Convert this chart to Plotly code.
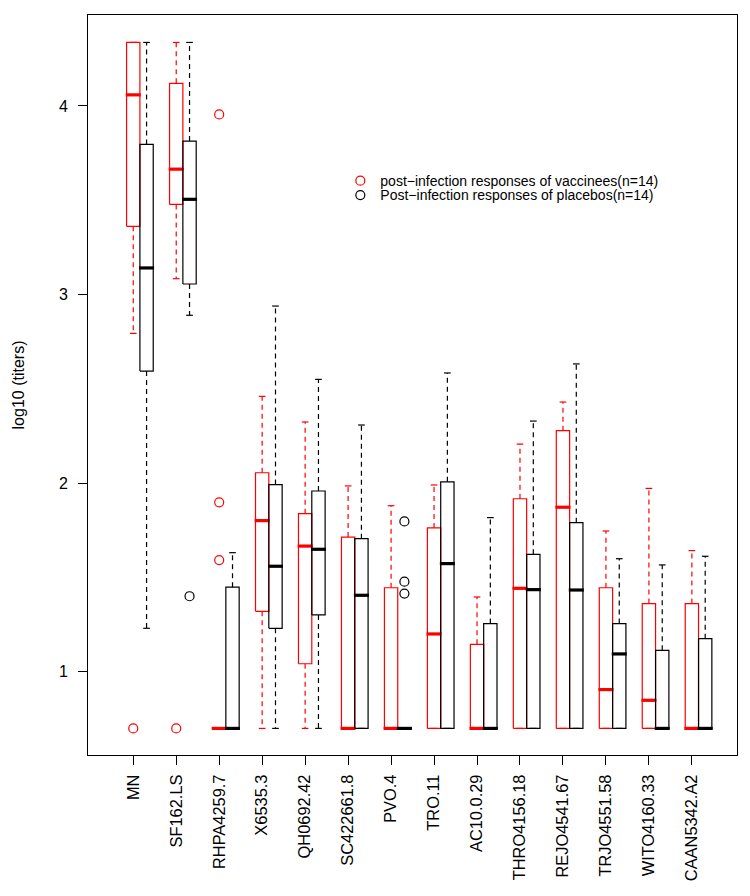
import plotly.graph_objects as go

# ---- data -------------------------------------------------------------
categories = ["MN", "SF162.LS", "RHPA4259.7", "X6535.3", "QH0692.42", "SC422661.8",
              "PVO.4", "TRO.11", "AC10.0.29", "THRO4156.18", "REJO4541.67",
              "TRJO4551.58", "WITO4160.33", "CAAN5342.A2"]

# vaccinees (red)
vac_lower = [2.794, 3.084, 0.699, 0.699, 0.699, 0.699, 0.699, 0.699, 0.699, 0.699, 0.699, 0.699, 0.699, 0.699]
vac_q1    = [3.362, 3.478, 0.699, 1.320, 1.042, 0.699, 0.699, 0.699, 0.699, 0.699, 0.699, 0.699, 0.699, 0.699]
vac_med   = [4.059, 3.665, 0.699, 1.801, 1.666, 0.699, 0.699, 1.200, 0.699, 1.442, 1.872, 0.905, 0.848, 0.699]
vac_q3    = [4.337, 4.120, 0.699, 2.055, 1.838, 1.714, 1.445, 1.762, 1.145, 1.917, 2.278, 1.445, 1.361, 1.361]
vac_upper = [4.337, 4.337, 0.699, 2.460, 2.324, 1.985, 1.880, 1.990, 1.396, 2.207, 2.430, 1.746, 1.972, 1.642]
vac_out_cat = [0, 1, 2, 2, 2]
vac_out_val = [0.699, 0.699, 3.955, 1.898, 1.592]

# placebos (black)
pla_lower = [1.230, 2.890, 0.699, 0.699, 0.699, 0.699, 0.699, 0.699, 0.699, 0.699, 0.699, 0.699, 0.699, 0.699]
pla_q1    = [2.594, 3.056, 0.699, 1.230, 1.301, 0.699, 0.699, 0.699, 0.699, 0.699, 0.699, 0.699, 0.699, 0.699]
pla_med   = [3.141, 3.505, 0.699, 1.559, 1.649, 1.405, 0.699, 1.573, 0.699, 1.435, 1.433, 1.094, 0.699, 0.699]
pla_q3    = [3.796, 3.814, 1.448, 1.992, 1.958, 1.705, 0.699, 2.007, 1.255, 1.622, 1.790, 1.255, 1.113, 1.175]
pla_upper = [4.337, 4.337, 1.631, 2.939, 2.550, 2.308, 0.699, 2.584, 1.817, 2.329, 2.632, 1.599, 1.566, 1.612]
pla_out_cat = [1, 6, 6, 6]
pla_out_val = [1.400, 1.797, 1.477, 1.414]

vac_name = "post\u2212infection responses of vaccinees(n=14)"
pla_name = "Post\u2212infection responses of placebos(n=14)"

# ---- geometry helpers -------------------------------------------------
HALF_W = 0.155          # half box width (category units)
CAP_W = 0.5 * HALF_W    # staple half width
OFFSET = {"vac": 0.0, "pla": 0.31}

fig = go.Figure()


def add_group(key, color, lower, q1, med, q3, upper, out_cat, out_val, name, legend_id):
    off = OFFSET[key]
    wx, wy, cx, cy, bx, by, mx, my = [], [], [], [], [], [], [], []
    for i in range(len(categories)):
        c = i + off
        wx += [c, c, None, c, c, None]
        wy += [q3[i], upper[i], None, q1[i], lower[i], None]
        cx += [c - CAP_W, c + CAP_W, None, c - CAP_W, c + CAP_W, None]
        cy += [upper[i], upper[i], None, lower[i], lower[i], None]
        bx += [c - HALF_W, c + HALF_W, c + HALF_W, c - HALF_W, c - HALF_W, None]
        by += [q1[i], q1[i], q3[i], q3[i], q1[i], None]
        mx += [c - HALF_W - 0.02, c + HALF_W + 0.02, None]
        my += [med[i], med[i], None]
    fig.add_trace(go.Scatter(x=wx, y=wy, mode="lines", showlegend=False, hoverinfo="skip",
                             line=dict(color=color, width=1.2, dash="5px,4px")))
    fig.add_trace(go.Scatter(x=cx, y=cy, mode="lines", showlegend=False, hoverinfo="skip",
                             line=dict(color=color, width=1.2)))
    fig.add_trace(go.Scatter(x=bx, y=by, mode="lines", showlegend=False, hoverinfo="skip",
                             line=dict(color=color, width=1.2)))
    fig.add_trace(go.Scatter(x=mx, y=my, mode="lines", showlegend=False, hoverinfo="skip",
                             line=dict(color=color, width=3.2)))
    fig.add_trace(go.Scatter(x=[c + off for c in out_cat], y=out_val, mode="markers", name=name,
                             legend=legend_id,
                             marker=dict(symbol="circle-open", size=9, color=color,
                                         line=dict(color=color, width=1.2))))


add_group("vac", "#FF0000", vac_lower, vac_q1, vac_med, vac_q3, vac_upper,
          vac_out_cat, vac_out_val, vac_name, "legend")
add_group("pla", "#000000", pla_lower, pla_q1, pla_med, pla_q3, pla_upper,
          pla_out_cat, pla_out_val, pla_name, "legend2")

FONT = "Liberation Sans, Arial, Helvetica, sans-serif"
legend_style = dict(xanchor="left", yanchor="top", bgcolor="rgba(0,0,0,0)", borderwidth=0,
                    font=dict(family=FONT, size=14, color="black"))

fig.update_layout(
    width=742, height=888,
    margin=dict(l=80, r=13, t=7, b=141),
    plot_bgcolor="white", paper_bgcolor="white",
    font=dict(family=FONT, color="black", size=16),
    showlegend=True,
    legend=dict(x=0.3888, y=0.7972, **legend_style),
    legend2=dict(x=0.3888, y=0.7778, **legend_style),
    xaxis=dict(range=[-1.053, 14.05], tickmode="array",
               tickvals=list(range(len(categories))), ticktext=categories,
               tickangle=-90, ticks="outside", ticklen=9, tickcolor="black",
               showline=True, mirror=True, linecolor="black", linewidth=1,
               showgrid=False, zeroline=False, tickfont=dict(size=16.4),
               ticklabelstandoff=3),
    yaxis=dict(range=[0.558, 4.4825], tickmode="array", tickvals=[1, 2, 3, 4],
               ticktext=["1", "2", "3", "4"],
               ticks="outside", ticklen=9, tickcolor="black",
               showline=True, mirror=True, linecolor="black", linewidth=1,
               showgrid=False, zeroline=False, tickfont=dict(size=16),
               ticklabelstandoff=7,
               title=dict(text="log10 (titers)", font=dict(size=16), standoff=30)),
)

fig.write_html("out.html")
